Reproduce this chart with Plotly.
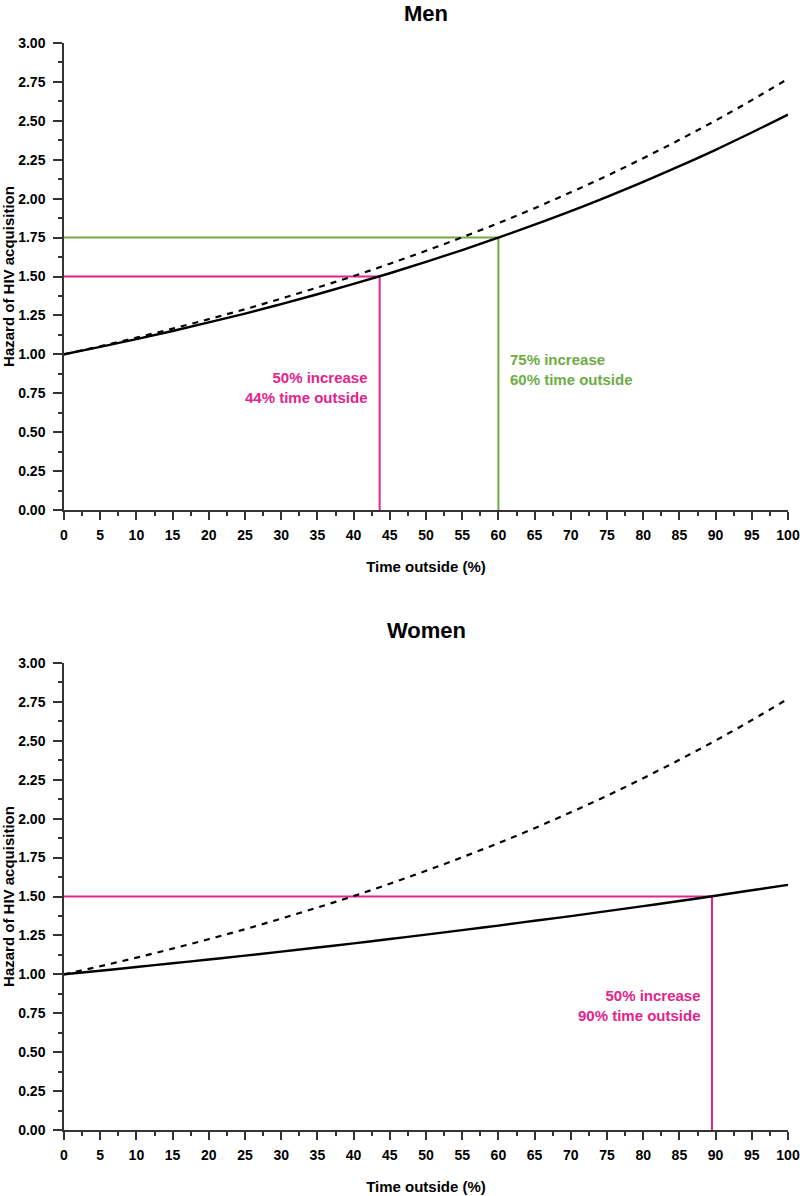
import plotly.graph_objects as go
from plotly.subplots import make_subplots

time_pct = [0, 5, 10, 15, 20, 25, 30, 35, 40, 45, 50, 55, 60, 65, 70, 75, 80, 85, 90, 95, 100]
dashed_ref = [1.000, 1.052, 1.107, 1.165, 1.226, 1.290, 1.358, 1.429, 1.503, 1.582, 1.665,
              1.752, 1.843, 1.939, 2.041, 2.147, 2.260, 2.378, 2.502, 2.633, 2.770]
men_hazard = [1.000, 1.048, 1.098, 1.150, 1.205, 1.262, 1.323, 1.386, 1.452, 1.521, 1.594,
              1.670, 1.750, 1.833, 1.920, 2.012, 2.108, 2.209, 2.314, 2.425, 2.540]
women_hazard = [1.000, 1.023, 1.047, 1.071, 1.095, 1.120, 1.146, 1.172, 1.199, 1.227, 1.255,
                1.284, 1.313, 1.344, 1.374, 1.406, 1.438, 1.471, 1.505, 1.540, 1.575]

men_pink = (43.6, 1.5)
men_green = (60.0, 1.75)
women_pink = (89.5, 1.5)

PINK = "#E4238B"
GREEN = "#6EAC45"
FONT = "Arial, Liberation Sans, sans-serif"

H = 1196
MT, MB = 43, 66
PH = H - MT - MB

fig = make_subplots(rows=2, cols=1, vertical_spacing=0.1)

def add_panel(row, solid, refs):
    for (xv, yv, col) in refs:
        fig.add_trace(go.Scatter(x=[0, xv, xv], y=[yv, yv, 0], mode="lines",
                                 line=dict(color=col, width=2), showlegend=False,
                                 hoverinfo="skip"), row=row, col=1)
    fig.add_trace(go.Scatter(x=time_pct, y=dashed_ref, mode="lines", line_shape="spline",
                             line=dict(color="black", width=2.2, dash="6px,6px"),
                             showlegend=False), row=row, col=1)
    fig.add_trace(go.Scatter(x=time_pct, y=solid, mode="lines", line_shape="spline",
                             line=dict(color="black", width=2.4),
                             showlegend=False), row=row, col=1)

add_panel(1, men_hazard, [(men_pink[0], men_pink[1], PINK), (men_green[0], men_green[1], GREEN)])
add_panel(2, women_hazard, [(women_pink[0], women_pink[1], PINK)])

axis_common = dict(showgrid=False, zeroline=False, showline=True, linecolor="#333",
                   linewidth=1.5, ticks="outside", tickwidth=1.5, tickcolor="#333",
                   automargin=False,
                   tickfont=dict(family=FONT, size=14, color="black", weight="bold"))

for r, dom in [(1, [1 - 467 / PH, 1.0]), (2, [0.0, 467 / PH])]:
    fig.update_xaxes(range=[0, 100], tick0=0, dtick=5, ticklen=8, ticklabelstandoff=3,
                     minor=dict(dtick=2.5, ticks="outside", ticklen=4, tickwidth=1.5, tickcolor="#333"),
                     title=dict(text="Time outside (%)", font=dict(family=FONT, size=15, color="black", weight="bold"), standoff=20),
                     row=r, col=1, **axis_common)
    fig.update_yaxes(range=[0, 3], tick0=0, dtick=0.25, tickformat=".2f", domain=dom,
                     ticklen=9, ticklabelstandoff=5,
                     minor=dict(dtick=0.125, ticks="outside", ticklen=4, tickwidth=1.5, tickcolor="#333"),
                     title=dict(text="Hazard of HIV acquisition", font=dict(family=FONT, size=15, color="black", weight="bold"), standoff=4),
                     row=r, col=1, **axis_common)

def note(text, x, y, xref, yref, color, xanchor):
    fig.add_annotation(text=text, x=x, y=y, xref=xref, yref=yref, showarrow=False,
                       xanchor=xanchor, yanchor="middle", align="right" if xanchor == "right" else "left",
                       font=dict(family=FONT, size=15, color=color, weight="bold"))

note("50% increase<br>44% time outside", 42.3, 0.79, "x", "y", PINK, "right")
note("75% increase<br>60% time outside", 61.3, 0.90, "x", "y", GREEN, "left")
note("50% increase<br>90% time outside", 88.3, 0.80, "x2", "y2", PINK, "right")

def panel_title(text, ypx):
    fig.add_annotation(text=text, x=0.5, y=1 - (ypx - MT) / PH, xref="paper", yref="paper",
                       showarrow=False, yanchor="middle",
                       font=dict(family=FONT, size=22, color="black", weight="bold"))

panel_title("Men", 13)
panel_title("Women", 630)

fig.update_layout(
    width=800, height=H, margin=dict(l=64, r=12, t=MT, b=MB),
    plot_bgcolor="white", paper_bgcolor="white", showlegend=False,
    font=dict(family=FONT),
)

fig.write_html("out.html", config={"displayModeBar": False},
               post_script="document.body.style.margin='0';document.body.style.overflow='hidden';")
